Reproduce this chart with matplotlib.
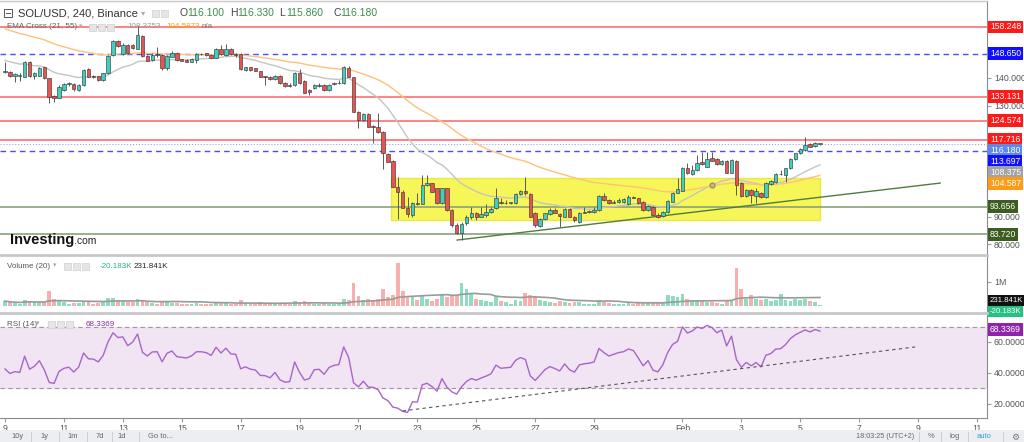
import numpy as np
import pandas as pd
import matplotlib
matplotlib.use('Agg')
import matplotlib.pyplot as plt
from matplotlib.patches import Rectangle
import matplotlib.transforms as mtransforms

plt.rcParams['font.family'] = ['Liberation Sans', 'DejaVu Sans']

# SOL/USD 4h candles, Jan 9 -> Feb 5
opens = [141.9, 142.2, 140.7, 140.6, 140.4, 145.8, 140.7, 140.7, 143.7, 139.8,
         133.5, 132.8, 135.6, 137.9, 137.7, 135.6, 137.4, 143.0, 140.4, 140.6,
         139.2, 141.6, 148.2, 153.2, 148.5, 151.8, 151.8, 150.3, 155.1, 147.8,
         146.4, 148.4, 148.2, 143.6, 147.6, 149.0, 146.6, 146.4, 145.8, 146.4,
         148.5, 148.8, 148.2, 147.2, 150.2, 148.2, 150.3, 148.4, 148.4, 142.8,
         143.7, 143.4, 142.3, 140.4, 140.4, 139.4, 140.6, 138.2, 137.4, 137.4,
         141.8, 138.8, 135.6, 136.2, 137.0, 137.4, 135.6, 137.7, 138.0, 138.0,
         143.4, 140.1, 127.8, 124.8, 126.8, 122.6, 122.2, 120.6, 112.6, 110.0,
         100.8, 99.0, 93.3, 90.6, 94.8, 94.6, 101.4, 102.0, 100.2, 94.8,
         100.2, 92.4, 87.0, 84.3, 87.6, 90.0, 91.4, 90.0, 90.5, 91.8,
         93.0, 95.4, 94.8, 95.0, 94.8, 98.0, 99.2, 98.0, 91.2, 86.7,
         89.0, 91.0, 92.4, 91.0, 90.0, 92.8, 90.0, 88.2, 91.4, 91.8,
         91.8, 92.4, 97.4, 96.0, 95.0, 95.4, 95.4, 94.6, 97.2, 96.6,
         95.4, 92.4, 93.4, 90.6, 90.2, 91.7, 95.4, 98.6, 99.4, 107.4,
         105.4, 106.8, 109.5, 108.0, 111.0, 110.6, 108.8, 110.1, 105.8, 110.0,
         102.2, 97.4, 99.6, 97.4, 98.6, 97.0, 101.6, 102.4, 105.2, 105.0,
         107.4, 110.6, 112.8, 114.0, 116.1, 115.4, 116.10]
highs = [145.8, 142.5, 141.8, 141.6, 146.0, 146.1, 141.9, 143.7, 144.0, 140.0,
         133.8, 137.4, 138.0, 138.6, 138.2, 137.7, 143.0, 143.4, 141.0, 140.7,
         141.8, 148.2, 153.6, 153.6, 152.4, 152.1, 152.1, 158.6, 155.4, 148.2,
         148.8, 151.2, 148.5, 148.2, 149.7, 149.2, 146.8, 146.6, 147.0, 148.8,
         148.8, 149.0, 148.4, 150.6, 151.8, 152.1, 150.6, 148.8, 148.8, 144.0,
         144.0, 143.6, 142.5, 140.7, 140.6, 141.0, 141.0, 138.4, 138.0, 142.2,
         143.0, 139.2, 135.8, 137.7, 138.0, 137.6, 137.7, 138.3, 139.2, 144.2,
         144.2, 140.4, 128.0, 127.2, 127.2, 123.0, 127.2, 120.8, 112.8, 110.4,
         104.2, 99.6, 97.2, 95.4, 98.4, 105.0, 105.0, 102.2, 100.4, 100.4,
         100.4, 92.6, 87.6, 88.2, 90.6, 93.6, 91.8, 93.6, 94.6, 93.6,
         100.2, 96.6, 96.0, 95.4, 98.6, 99.6, 104.4, 98.4, 91.8, 89.4,
         91.4, 93.0, 93.0, 91.2, 93.0, 93.0, 90.2, 91.8, 93.6, 92.4,
         93.6, 97.8, 98.4, 96.3, 96.0, 96.6, 96.6, 97.8, 97.4, 96.8,
         95.6, 94.2, 93.8, 91.2, 92.0, 96.0, 99.0, 103.8, 107.8, 109.4,
         108.6, 112.2, 113.4, 113.4, 113.4, 111.0, 110.4, 110.4, 110.6, 110.3,
         102.6, 99.8, 99.8, 100.2, 99.0, 102.6, 103.2, 105.6, 106.8, 107.6,
         111.0, 113.0, 114.6, 118.8, 116.4, 117.0, 116.33]
lows = [141.6, 140.4, 138.6, 138.9, 140.1, 140.4, 139.4, 140.6, 139.5, 130.8,
        131.4, 132.6, 135.3, 137.0, 135.2, 135.3, 137.0, 140.1, 139.8, 138.9,
        138.9, 141.3, 147.8, 151.2, 148.3, 148.5, 150.3, 150.3, 147.6, 145.9,
        146.1, 147.6, 142.8, 142.8, 147.3, 146.1, 145.9, 145.5, 145.5, 145.2,
        148.2, 147.9, 147.0, 147.0, 148.2, 147.9, 148.2, 147.3, 142.9, 142.5,
        142.5, 142.3, 140.1, 137.4, 139.2, 139.2, 137.7, 136.8, 136.5, 137.1,
        137.7, 134.4, 133.8, 135.9, 136.8, 135.3, 135.3, 137.4, 137.7, 137.7,
        140.1, 127.5, 121.8, 124.5, 122.2, 116.4, 120.1, 107.0, 109.6, 100.6,
        89.0, 93.0, 90.0, 90.0, 94.2, 94.6, 101.0, 98.8, 94.6, 94.6,
        92.2, 86.4, 83.8, 81.6, 87.0, 89.2, 88.8, 89.8, 90.0, 91.4,
        92.6, 94.4, 94.6, 94.6, 94.6, 97.8, 97.8, 89.8, 86.4, 86.4,
        88.8, 90.6, 91.2, 86.2, 89.8, 89.8, 88.2, 87.9, 91.2, 91.4,
        91.4, 92.2, 95.8, 94.6, 94.8, 95.0, 95.0, 94.3, 96.6, 94.6,
        92.2, 92.2, 90.2, 89.4, 90.0, 91.2, 95.2, 98.4, 99.1, 105.2,
        105.0, 106.5, 108.6, 107.8, 109.9, 108.6, 108.6, 105.6, 105.6, 97.8,
        97.2, 97.2, 94.8, 94.8, 96.6, 96.6, 101.4, 102.0, 105.0, 102.6,
        107.2, 110.4, 112.5, 113.7, 115.0, 115.0, 115.86]
closes = [142.5, 140.7, 141.2, 140.9, 145.5, 140.7, 141.6, 143.4, 139.8, 133.2,
          132.6, 136.5, 137.6, 138.0, 135.8, 137.4, 142.8, 140.4, 140.3, 139.2,
          141.6, 147.8, 153.2, 151.5, 151.9, 148.8, 150.6, 155.4, 147.9, 146.1,
          148.2, 148.3, 143.6, 147.8, 149.0, 146.4, 146.1, 145.8, 146.7, 148.4,
          148.4, 148.1, 147.2, 150.2, 148.4, 150.2, 148.4, 148.3, 143.1, 143.7,
          142.8, 142.5, 140.4, 140.3, 139.5, 140.7, 138.0, 137.0, 137.1, 141.8,
          138.0, 134.6, 135.0, 137.4, 137.5, 135.6, 137.4, 138.0, 138.2, 143.7,
          140.4, 127.8, 124.8, 126.8, 122.4, 122.2, 120.4, 112.8, 109.8, 100.8,
          99.0, 93.3, 91.0, 94.8, 94.6, 101.4, 102.0, 99.0, 94.8, 100.2,
          92.4, 87.0, 84.0, 87.4, 90.0, 91.4, 90.0, 91.0, 91.8, 92.8,
          96.6, 94.8, 95.0, 95.2, 98.0, 99.2, 98.4, 90.0, 87.0, 89.0,
          91.2, 92.4, 91.4, 90.2, 92.8, 90.0, 88.8, 91.4, 91.8, 92.0,
          92.4, 97.4, 96.0, 94.8, 95.4, 96.0, 96.3, 97.2, 96.8, 94.8,
          92.4, 93.8, 90.6, 90.0, 91.8, 95.6, 98.6, 99.8, 107.4, 105.6,
          106.8, 109.2, 108.8, 110.6, 110.1, 108.8, 110.1, 105.8, 110.4, 101.4,
          97.4, 99.6, 97.8, 99.2, 97.0, 102.2, 103.0, 105.2, 105.4, 107.4,
          110.6, 112.8, 114.3, 115.8, 115.2, 116.6, 116.18]
# volume in thousands
volumes = [200, 150, 120, 100, 250, 200, 150, 150, 180, 600,
           300, 250, 150, 100, 120, 120, 220, 150, 100, 120,
           150, 320, 330, 250, 200, 180, 150, 300, 250, 150,
           120, 100, 200, 150, 120, 130, 90, 90, 80, 110,
           80, 80, 90, 150, 130, 140, 100, 80, 250, 120,
           100, 90, 150, 110, 100, 90, 130, 110, 80, 200,
           180, 200, 120, 100, 80, 120, 90, 70, 80, 300,
           250, 950, 400, 250, 300, 220, 300, 700, 350, 450,
           1750, 600, 400, 350, 250, 400, 300, 200, 300, 500,
           350, 450, 450, 950, 700, 550, 300, 250, 200, 180,
           400, 200, 150, 100, 250, 200, 550, 450, 350, 250,
           200, 150, 120, 200, 150, 120, 150, 150, 100, 90,
           100, 250, 150, 120, 100, 90, 100, 150, 80, 120,
           150, 120, 180, 150, 150, 450, 400, 350, 500, 300,
           250, 250, 200, 180, 150, 120, 100, 200, 250, 1550,
           700, 300, 450, 300, 250, 300, 200, 250, 500, 250,
           200, 300, 250, 300, 200, 180, 60]

# indicator state just before the first visible candle
ema_fast_seed = 146.6
ema_slow_seed = 158.2
rsi_gain_seed, rsi_loss_seed = 0.85, 1.15

red_levels = [158.248, 133.131, 124.574, 117.716]
blue_levels = [148.650, 113.697]
green_levels = [93.656, 83.720]
last_price = 116.180
zone_days = [22.09, 36.68]
zone_prices = [88.8, 103.8]
trend_days = [24.35, 40.75]
trend_prices = [81.6, 102.1]
rsi_trend_days = [22.5, 39.9]
rsi_trend_vals = [15.3, 56.8]
price_ticks = [80, 90, 100, 110, 120, 130, 140, 150, 160]
price_tick_labels = ['80.000', '90.000', '', '', '', '130.000', '140.000', '', '']
day_ticks = [9, 11, 13, 15, 17, 19, 21, 23, 25, 27, 29, 32, 34, 36, 38, 40, 42]
day_labels = ['9', '11', '13', '15', '17', '19', '21', '23', '25', '27', '29',
              'Feb', '3', '5', '7', '9', '11']

o = np.array(opens); h = np.array(highs); l = np.array(lows); c = np.array(closes)
v = np.array(volumes, dtype=float)
n = len(c)
t = 9 + np.arange(n) / 6

# EMA cross
def ema(x, span, seed):
    a = 2 / (span + 1)
    out = np.empty(len(x)); prev = seed
    for i, val in enumerate(x):
        prev = a * val + (1 - a) * prev
        out[i] = prev
    return out

ema21 = ema(c, 21, ema_fast_seed)
ema55 = ema(c, 55, ema_slow_seed)

# RSI 14 (Wilder)
diff = np.diff(np.concatenate([[c[0]], c]))
g, lo = rsi_gain_seed, rsi_loss_seed
rsi = np.empty(n)
for i, d in enumerate(diff):
    g = (g * 13 + max(d, 0)) / 14
    lo = (lo * 13 + max(-d, 0)) / 14
    rsi[i] = 100 - 100 / (1 + g / lo)

vol_ma = pd.Series(v).rolling(20, min_periods=1).mean().values

UP, DOWN = '#3fcfc0', '#e8534f'
W, H = 1024, 442
fig = plt.figure(figsize=(W / 100, H / 100), dpi=100)

def box(x0, y0, x1, y1):
    return [x0 / W, 1 - y1 / H, (x1 - x0) / W, (y1 - y0) / H]

ax = fig.add_axes(box(0, 1, 987, 254.7))
axv = fig.add_axes(box(0, 254.7, 987, 312.7), sharex=ax)
axr = fig.add_axes(box(0, 312.7, 987, 418), sharex=ax)

for a in (ax, axv, axr):
    for s in ('left', 'bottom'):
        a.spines[s].set_visible(False)
    a.spines['right'].set_color('#8c8c8c')
    a.spines['top'].set_color('#c8c8c8')
    a.spines['top'].set_linewidth(2)
    a.yaxis.tick_right()
    a.tick_params(axis='y', length=3, color='#9a9a9a', labelsize=6.3,
                  labelcolor='#555555', pad=2)
ax.spines['top'].set_linewidth(1)
ax.tick_params(axis='x', bottom=False, labelbottom=False)
axv.tick_params(axis='x', bottom=False, labelbottom=False)

ax.set_xlim(8.83, 42.34)
ax.set_ylim(76.33, 167.6)
axv.set_ylim(-276, 2111)
axr.set_ylim(10.7, 79.0)

# --- price panel
up = c >= o
ax.add_patch(Rectangle((zone_days[0], zone_prices[0]), zone_days[1] - zone_days[0],
                       zone_prices[1] - zone_prices[0], facecolor='#f6f53c',
                       edgecolor='#e8e43a', lw=1, alpha=0.85, zorder=1))
for y in red_levels:
    ax.axhline(y, color='#ff6b6b', lw=1.3, alpha=0.9, zorder=2)
for y in blue_levels:
    ax.axhline(y, color='#4b4bff', lw=1, ls=(0, (4, 3)), zorder=2)
for y in green_levels:
    ax.axhline(y, color='#8aa27a', lw=1.2, zorder=2)
ax.axhline(last_price, color='#8fa7ee', lw=0.8, ls=':', zorder=2)
ax.plot(trend_days, trend_prices, color='#4f7d40', lw=1, zorder=2)
ax.plot(t, ema21, color='#c4c4c4', lw=1, zorder=2.5)
ax.plot(t, ema55, color='#ffc07a', lw=1, zorder=2.5)
cross = np.where(np.diff(np.sign(ema21 - ema55)) > 0)[0]
if len(cross):
    i = cross[-1] + 1
    ax.plot(t[i], ema21[i], 'o', ms=3.5, mfc='#c8b88a', mec='#a0906a', zorder=3)

ax.vlines(t, l, h, color='#5a5a5a', lw=0.7, zorder=3)
body = np.maximum(np.abs(c - o), 0.25)
ax.bar(t, body, bottom=np.minimum(o, c), width=0.115,
       color=np.where(up, UP, DOWN), edgecolor='#3a3a3a', linewidth=0.45, zorder=4)

ax.set_yticks(price_ticks)
ax.set_yticklabels(price_tick_labels)

def side_label(axis, val, text, col, pos=None, size=6.2):
    tr = mtransforms.blended_transform_factory(axis.transAxes, axis.transData)
    axis.text(1.003, val if pos is None else pos, text, transform=tr, fontsize=size,
              color='white', va='center', ha='left', zorder=6, clip_on=False,
              bbox=dict(boxstyle='square,pad=0.22', fc=col, ec='none'))

# right-hand price labels, pushed apart like the platform does
labels = [(158.248, '#ff1a1a'), (148.650, '#1010ff'), (133.131, '#ff1a1a'),
          (124.574, '#ff1a1a'), (117.716, '#ff1a1a'), (last_price, '#5c8ae6'),
          (113.697, '#1010ff'), (108.375, '#a3a3a3'), (104.587, '#ff9a14'),
          (93.656, '#3b5d1f'), (83.720, '#3b5d1f')]
gap = 11 * (167.6 - 76.33) / 253.7
prev = None
for val, col in sorted(labels, reverse=True):
    pos = val if prev is None else min(val, prev - gap)
    prev = pos
    side_label(ax, val, '%.3f' % val, col, pos)

# --- volume panel
axv.bar(t, v, width=0.13, color=np.where(up, '#8fdcc0', '#f7b0ad'), zorder=2)
axv.plot(t, vol_ma, color='#9a9a9a', lw=1.2, zorder=3)
axv.set_yticks([1000])
axv.set_yticklabels(['1M'])
vgap = 11 * (2111 + 276) / 58
side_label(axv, 231.841, '231.841K', '#111111', size=5.6)
side_label(axv, -20.183, '-20.183K', '#26c281', min(-20.183, 231.841 - vgap), size=5.6)

# --- RSI panel
axr.axhspan(30, 70, color='#f1e4f3', zorder=1)
axr.axhline(70, color='#9a9a9a', lw=0.8, ls=(0, (4, 3)), zorder=2)
axr.axhline(30, color='#9a9a9a', lw=0.8, ls=(0, (4, 3)), zorder=2)
axr.plot(t, rsi, color='#a865c9', lw=1, zorder=3)
axr.plot(rsi_trend_days, rsi_trend_vals, color='#555555', lw=0.8, ls=(0, (3, 3)), zorder=3)
axr.set_yticks([20, 40, 60])
axr.set_yticklabels(['20.0000', '40.0000', '60.0000'])
side_label(axr, 68.3369, '68.3369', '#8e24aa')
axr.set_xticks(day_ticks)
axr.set_xticklabels(day_labels)
axr.tick_params(axis='x', length=3, color='#9a9a9a', labelsize=6.3,
                labelcolor='#555555', pad=1)
axr.spines['bottom'].set_visible(True)
axr.spines['bottom'].set_color('#8c8c8c')

# --- overlay: legends, logo, toolbar
ov = fig.add_axes([0, 0, 1, 1], zorder=10)
ov.set_xlim(0, W); ov.set_ylim(H, 0); ov.axis('off'); ov.patch.set_alpha(0)

def icons(x, y, k):
    for j in range(k):
        ov.add_patch(Rectangle((x + j * 9, y - 3.5), 7, 7, fc='#e6e6e6', ec='#d0d0d0', lw=0.5))

ov.add_patch(Rectangle((4, 9), 8, 8, fc='white', ec='#555555', lw=0.7))
ov.plot([6, 10], [13, 13], color='#555555', lw=0.7)
ov.text(18, 13.5, 'SOL/USD, 240, Binance', fontsize=8, color='#333333', va='center')
ov.text(141, 13.5, '▾', fontsize=6, color='#aaaaaa', va='center')
icons(152, 13.5, 2)
for x, letter, val in [(180, 'O', '116.100'), (230, 'H', '116.330'),
                       (279, 'L', '115.860'), (333, 'C', '116.180')]:
    ov.text(x, 13.5, letter, fontsize=7.5, color='#444444', va='center')
    ov.text(x + 7, 13.5, val, fontsize=7.5, color='#3d8c50', va='center')

ov.text(7, 27, 'EMA Cross (21, 55)', fontsize=5.8, color='#666666', va='center')
ov.text(79, 27, '▾', fontsize=5, color='#aaaaaa', va='center')
icons(89, 27, 3)
ov.text(127, 27, '108.3753', fontsize=5.8, color='#9a9a9a', va='center')
ov.text(166, 27, '104.5873', fontsize=5.8, color='#ff9a14', va='center')
ov.text(202, 27, 'n/a', fontsize=5.8, color='#777777', va='center')

logo = ov.text(10, 240, 'Investing', fontsize=10.5, fontweight='bold',
               color='#111111', va='center')
fig.canvas.draw()
bb = logo.get_window_extent()
ov.text(bb.x1, 241, '.com', fontsize=7.5, color='#222222', va='center',
        transform=mtransforms.blended_transform_factory(mtransforms.IdentityTransform(), ov.transData))

ov.text(7, 266, 'Volume (20)', fontsize=5.8, color='#555555', va='center')
ov.text(53, 266, '▾', fontsize=5, color='#aaaaaa', va='center')
icons(64, 266, 3)
ov.text(100, 266, '-20.183K', fontsize=5.8, color='#26b27a', va='center')
ov.text(134, 266, '231.841K', fontsize=5.8, color='#222222', va='center')

ov.text(7, 324, 'RSI (14)', fontsize=5.8, color='#555555', va='center')
ov.text(36, 324, '▾', fontsize=5, color='#aaaaaa', va='center')
icons(48, 324, 3)
ov.text(86, 324, '68.3369', fontsize=5.8, color='#8e24aa', va='center')

ov.add_patch(Rectangle((0, 430), W, 12, fc='#eceef1', ec='none'))
for x, s in [(11, '10y'), (40, '1y'), (67, '1m'), (96, '7d'), (117, '1d'), (148, 'Go to...')]:
    ov.text(x, 437, s, fontsize=5.4, color='#666666', va='center')
for x in [31, 59, 87, 112, 139, 919, 941, 968, 1003]:
    ov.plot([x, x], [432, 441], color='#c8c8c8', lw=0.6)
ov.text(856, 437, '18:03:25 (UTC+2)', fontsize=5.2, color='#666666', va='center')
ov.text(928, 437, '%', fontsize=5.4, color='#666666', va='center')
ov.text(950, 437, 'log', fontsize=5.4, color='#666666', va='center')
ov.text(977, 437, 'auto', fontsize=5.4, color='#2f9be0', va='center')
ov.text(1011, 437, '⚙', fontsize=6.5, color='#777777', va='center')

fig.savefig('out.png', dpi=100)
